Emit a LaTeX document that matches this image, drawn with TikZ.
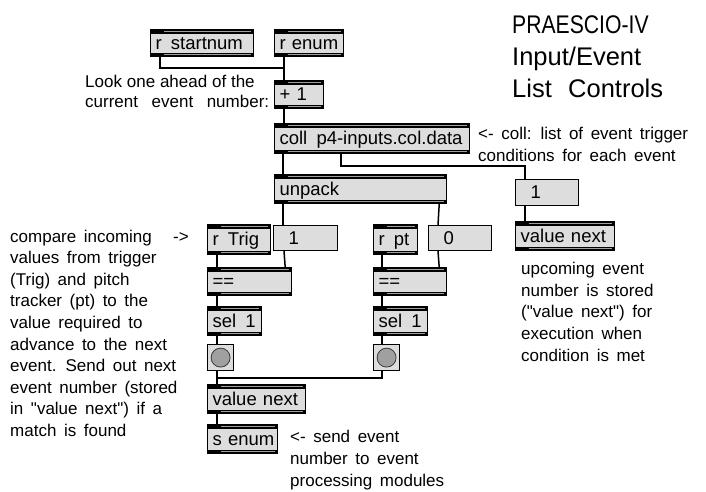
\documentclass[tikz,border=0pt]{standalone}
\usepackage{fontspec}
\setmainfont{Liberation Sans}[WordSpace=1.6]
\newfontfamily\narrowfont{Liberation Sans}[FakeStretch=0.83]
\usetikzlibrary{calc}
\definecolor{boxgray}{RGB}{221,221,221}
\definecolor{stripgray}{RGB}{160,160,160}
\definecolor{circgray}{RGB}{160,160,160}
\newcommand{\dq}{\textquotedbl}
\tikzset{
  wire/.style={line width=1.5pt, black},
  strips/.style={path picture={
    \fill[black] (path picture bounding box.north west) rectangle ([yshift=-4pt]path picture bounding box.north east);
    \draw[stripgray, line width=1pt] ([xshift=13pt,yshift=-2pt]path picture bounding box.north west) -- ([xshift=-3pt,yshift=-2pt]path picture bounding box.north east);
    \fill[black] (path picture bounding box.south west) rectangle ([yshift=4pt]path picture bounding box.south east);
    \draw[stripgray, line width=1pt] ([xshift=13pt,yshift=2pt]path picture bounding box.south west) -- ([xshift=-3pt,yshift=2pt]path picture bounding box.south east);
  }},
  objbox/.style n args={2}{draw=black, line width=1.2pt, fill=boxgray, anchor=north west,
    inner xsep=5pt, inner ysep=0pt, align=left, text width=#1pt-10pt, minimum height=#2pt,
    text height=12pt, text depth=0pt,
    font=\fontsize{18.5}{20}\selectfont, strips},
  msgbox/.style n args={2}{draw=black, line width=1.2pt, fill=boxgray, anchor=north west,
    inner xsep=15pt, inner ysep=0pt, align=left, text width=#1pt-30pt, minimum height=#2pt,
    text height=12pt, text depth=0pt,
    font=\fontsize{18.5}{20}\selectfont},
  btnbox/.style={draw=black, line width=1.2pt, fill=boxgray, anchor=north west,
    minimum width=26pt, minimum height=26pt, inner sep=0pt,
    path picture={\filldraw[fill=circgray, draw=gray!45!black, line width=0.8pt]
      (path picture bounding box.center) circle (9.5pt);}},
  note/.style={anchor=base west, inner sep=0pt, align=left, font=\fontsize{17}{21.6}\selectfont},
  titletxt/.style={anchor=base west, inner sep=0pt, font=\fontsize{25.5}{30}\selectfont},
}
\begin{document}
\begin{tikzpicture}[x=1pt,y=-1pt]
\useasboundingbox[fill=white] (0,0) rectangle (706,491);

% objects
\node[objbox={103}{27}] (startnum) at (150,29) {\mbox{r\hspace{3pt} startnum}};
\node[objbox={69}{27}] (enum) at (274,29) {\mbox{r enum}};
\node[objbox={49}{28}] (plus) at (274,80) {\mbox{+ 1}};
\node[objbox={195}{30}] (coll) at (274,123) {\mbox{coll\hspace{3pt} p4-inputs.col.data}};
\node[objbox={172}{29}] (unpack) at (274,174) {\mbox{unpack}};
\node[msgbox={63}{26}] (nextone) at (515,179) {1};
\node[objbox={99}{29}] (valnextR) at (515,221) {\mbox{value next}};
\node[objbox={63}{30}] (rtrig) at (207,224) {\mbox{r\hspace{3pt} Trig}};
\node[msgbox={64}{25}] (msgone) at (273,225) {1};
\node[objbox={44}{30}] (rpt) at (373,224) {\mbox{r\hspace{3pt} pt}};
\node[msgbox={63}{25}] (zero) at (428,225) {0};
\node[objbox={84}{28}] (eqL) at (207,267) {==};
\node[objbox={73}{28}] (eqR) at (373,267) {==};
\node[objbox={54}{29}] (selL) at (207,306) {\mbox{sel\hspace{3pt} 1}};
\node[objbox={54}{29}] (selR) at (373,306) {\mbox{sel\hspace{3pt} 1}};
\node[btnbox] (btnL) at (207,344) {};
\node[btnbox] (btnR) at (373,344) {};
\node[objbox={98}{29}] (valnext) at (207,384) {\mbox{value next}};
\node[objbox={70}{29}] (senum) at (207,424) {\mbox{s enum}};

% wires
\draw[wire] ([xshift=10pt]startnum.south west) -- ++(0,11) -| ([xshift=10pt]plus.north west);
\draw[wire] ([xshift=10pt]enum.south west) -- ([xshift=10pt]plus.north west);
\draw[wire] ([xshift=10pt]plus.south west) -- ([xshift=10pt]coll.north west);
\draw[wire] ([xshift=9pt]coll.south west) -- ([xshift=9pt]unpack.north west);
\draw[wire] ([xshift=67pt]coll.south west) -- ++(0,12) -| ([xshift=10pt]nextone.north west);
\draw[wire] ([xshift=10pt]nextone.south west) -- ([xshift=10pt]valnextR.north west);
\draw[wire] ([xshift=9pt]unpack.south west) -- ([xshift=10pt]msgone.north west);
\draw[wire] ([xshift=-8pt]unpack.south east) -- ([xshift=10pt]zero.north west);
\draw[wire] ([xshift=10pt]rtrig.south west) -- ([xshift=10pt]eqL.north west);
\draw[wire] ([xshift=11pt]msgone.south west) -- ([xshift=-7pt]eqL.north east);
\draw[wire] ([xshift=9pt]rpt.south west) -- ([xshift=9pt]eqR.north west);
\draw[wire] ([xshift=10pt]zero.south west) -- ([xshift=-8pt]eqR.north east);
\draw[wire] ([xshift=10pt]eqL.south west) -- ([xshift=10pt]selL.north west);
\draw[wire] ([xshift=9pt]eqR.south west) -- ([xshift=9pt]selR.north west);
\draw[wire] ([xshift=10pt]selL.south west) -- ([xshift=10pt]btnL.north west);
\draw[wire] ([xshift=9pt]selR.south west) -- ([xshift=9pt]btnR.north west);
\draw[wire] ([xshift=10pt]btnL.south west) -- ([xshift=10pt]valnext.north west);
\draw[wire] ([xshift=9pt]btnR.south west) -- ++(0,7) -| ([xshift=10pt]valnext.north west);
\draw[wire] ([xshift=10pt]valnext.south west) -- ([xshift=10pt]senum.north west);

% texts (anchor = baseline of the last line)
\node[titletxt] (t1) at (512,33) {\narrowfont PRAESCIO-IV};
\node[titletxt] (t2) at (512,65) {Input/Event};
\node[titletxt] (t3) at (512,97) {List\hspace{5pt} Controls};
\node[note, font=\fontsize{17}{20}\selectfont] (look) at (85,107) {{\spaceskip=4.8pt\relax Look one ahead of the}\\current\hspace{6pt} event\hspace{6pt} number:};
\node[note] (collnote) at (478,161) {<- coll: list of event trigger\\conditions for each event};
\node[note] (compare) at (10,436.4) {compare incoming\\values from trigger\\(Trig) and pitch\\tracker (pt) to the\\value required to\\advance to the next\\event. Send out next\\event number (stored\\in \dq value next\dq) if a\\match is found};
\node[note] (arr) at (173,242) {->};
\node[note] (upcoming) at (521,361) {upcoming event\\number is stored\\(\dq value next\dq) for\\execution when\\condition is met};
\node[note] (send) at (290,486) {<- send event\\number to event\\processing modules};
\end{tikzpicture}
\end{document}
